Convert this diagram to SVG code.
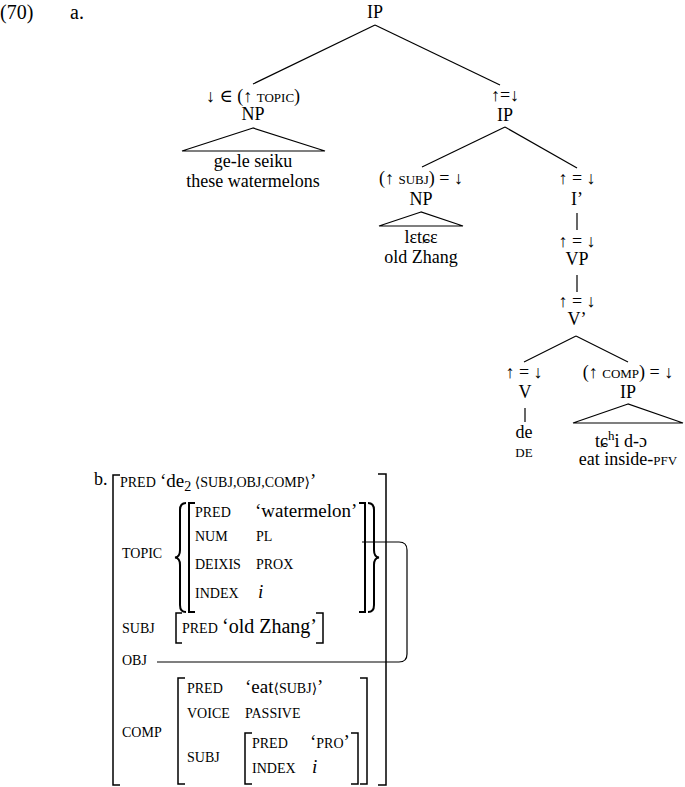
<svg xmlns="http://www.w3.org/2000/svg" width="685" height="787" viewBox="0 0 685 787">
<style>
text{font-family:'Liberation Serif','DejaVu Serif',serif;fill:#000}
.t{font-size:18px;text-anchor:middle}
.sc{font-size:13px}
.big{font-size:20px}
.a{font-size:14px}
.v{font-size:19px}
.it{font-style:italic}
.ln{stroke:#000;stroke-width:1.2;fill:none}
.br{stroke:#000;stroke-width:1.5;fill:none}
.brb{stroke:#000;stroke-width:2;fill:none}
</style>
<rect width="685" height="787" fill="#fff"/>
<g font-family="'Liberation Serif', 'DejaVu Serif', serif">
<text x="0" y="19" class="big">(70)</text>
<text x="70" y="19" class="big">a.</text>

<g id="connectors">
<line class="ln" x1="375" y1="25" x2="253" y2="84"/>
<line class="ln" x1="375" y1="25" x2="500" y2="85"/>
<line class="ln" x1="505" y1="127" x2="422" y2="167"/>
<line class="ln" x1="505" y1="127" x2="577" y2="168"/>
<line class="ln" x1="577" y1="213" x2="577" y2="230"/>
<line class="ln" x1="577" y1="275" x2="577" y2="292"/>
<line class="ln" x1="576" y1="336" x2="524" y2="362"/>
<line class="ln" x1="576" y1="336" x2="628" y2="362"/>
<line class="ln" x1="525" y1="408" x2="525" y2="422"/>
</g>

<g id="n-ip-root"><text x="375" y="18" class="t">IP</text></g>
<g id="n-np-topic">
<text x="253" y="102" class="t">↓ ∈ (↑ <tspan class="sc">TOPIC</tspan>)</text>
<text x="253" y="120" class="t">NP</text>
<polygon class="ln" points="253,128 182,151 325,151"/>
<text x="253" y="167" class="t">ge-le seiku</text>
<text x="253" y="187" class="t">these watermelons</text>
</g>
<g id="n-ip2">
<text x="505" y="101" class="t">↑=↓</text>
<text x="505" y="121" class="t">IP</text>
</g>
<g id="n-np-subj">
<text x="421" y="184" class="t">(↑ <tspan class="sc">SUBJ</tspan>) = ↓</text>
<text x="421" y="205" class="t">NP</text>
<polygon class="ln" points="421,212 379,226 463,226"/>
<text x="421" y="243" class="t">lɛtɕɛ</text>
<text x="421" y="263" class="t">old Zhang</text>
</g>
<g id="n-ibar">
<text x="577" y="184" class="t">↑ = ↓</text>
<text x="577" y="205" class="t">I’</text>
</g>
<g id="n-vp">
<text x="577" y="247" class="t">↑ = ↓</text>
<text x="577" y="265" class="t">VP</text>
</g>
<g id="n-vbar">
<text x="577" y="307" class="t">↑ = ↓</text>
<text x="577" y="325" class="t">V’</text>
</g>
<g id="n-v">
<text x="524" y="378" class="t">↑ = ↓</text>
<text x="525" y="398" class="t">V</text>
<text x="524" y="438" class="t">de</text>
<text x="524" y="457" class="t sc">DE</text>
</g>
<g id="n-ip-comp">
<text x="628" y="378" class="t">(↑ <tspan class="sc">COMP</tspan>) = ↓</text>
<text x="628" y="398" class="t">IP</text>
<polygon class="ln" points="628,404 573,423 683,423"/>
<text x="621" y="447" class="t">tɕ<tspan dy="-7" font-size="13">h</tspan><tspan dy="7">i d-ɔ</tspan></text>
<text x="628" y="465" class="t">eat inside-<tspan class="sc">PFV</tspan></text>
</g>

<g id="avm">
<text x="94" y="485" font-size="18">b.</text>
<path class="br" d="M120 475 H113 V785 H120"/>
<path class="br" d="M378 474 H386 V785 H378"/>
<text x="120" y="487" class="a">PRED</text>
<text x="160" y="487" class="v">‘de<tspan font-size="14" dy="4">2</tspan><tspan dy="-4" font-size="14"> ⟨SUBJ,OBJ,COMP⟩</tspan>’</text>

<g id="topic">
<text x="122" y="558" class="a">TOPIC</text>
<path class="brb" d="M186 503 Q180 503 180 510 L180 550 Q180 557 175 557.5 Q180 558 180 565 L180 605 Q180 612 186 612"/>
<path class="brb" d="M195 503 H189 V612 H195"/>
<text x="195" y="517" class="a">PRED</text>
<text x="255" y="517" class="v">‘watermelon’</text>
<text x="195" y="541" class="a">NUM</text>
<text x="256" y="541" class="a">PL</text>
<text x="195" y="569" class="a">DEIXIS</text>
<text x="256" y="569" class="a">PROX</text>
<text x="195" y="598" class="a">INDEX</text>
<text x="258" y="598" class="v it">i</text>
<path class="brb" d="M359 503 H365 V612 H359"/>
<path class="brb" d="M368 503 Q374 503 374 510 L374 550 Q374 557 379 557.5 Q374 558 374 565 L374 605 Q374 612 368 612"/>
</g>

<g id="subj">
<text x="122" y="633" class="a">SUBJ</text>
<path class="br" d="M182 613 H176 V643 H182"/>
<text x="182" y="633" class="a">PRED</text>
<text x="222" y="633" font-size="20">‘old Zhang’</text>
<path class="br" d="M316 613 H323 V643 H316"/>
</g>

<g id="obj">
<text x="122" y="665" class="a">OBJ</text>
<path class="ln" d="M157 662 H399 Q407 662 407 654 V550 Q407 542 399 542 H362"/>
</g>

<g id="comp">
<text x="122" y="737" class="a">COMP</text>
<path class="br" d="M185 678 H178 V784 H185"/>
<text x="187" y="693" class="a">PRED</text>
<text x="245" y="693" class="v">‘eat<tspan font-size="14">⟨SUBJ⟩</tspan>’</text>
<text x="187" y="718" class="a">VOICE</text>
<text x="245" y="718" class="a">PASSIVE</text>
<text x="187" y="762" class="a">SUBJ</text>
<path class="br" d="M252 733 H245 V784 H252"/>
<text x="252" y="748" class="a">PRED</text>
<text x="310" y="748" class="v">‘<tspan font-size="14">PRO</tspan>’</text>
<text x="252" y="773" class="a">INDEX</text>
<text x="312" y="773" class="v it">i</text>
<path class="br" d="M351 733 H358 V784 H351"/>
<path class="br" d="M360 678 H367 V784 H360"/>
</g>
</g>
</g>
</svg>
